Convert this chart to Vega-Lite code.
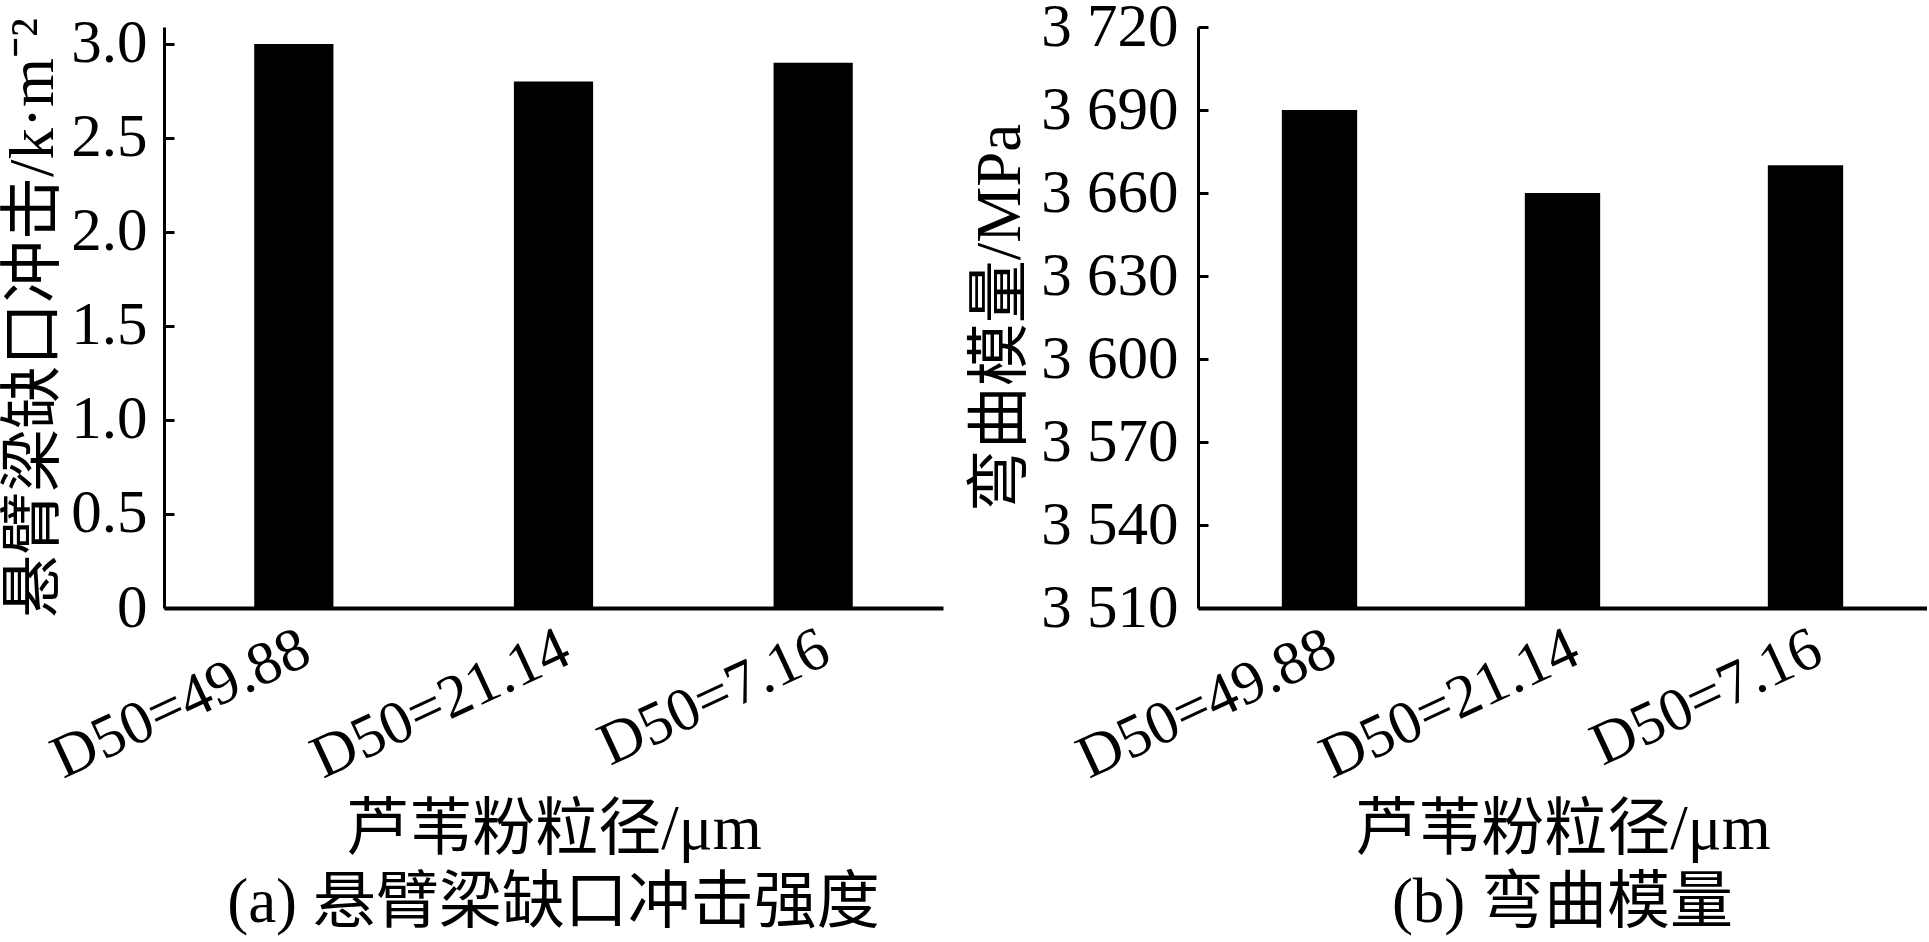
{
  "$schema": "https://vega.github.io/schema/vega-lite/v6.json",
  "background": "white",
  "padding": {"left": 2, "top": -4, "right": 0, "bottom": 0},
  "spacing": 26,
  "config": {
    "font": "Liberation Serif, Noto Sans CJK SC",
    "view": {"stroke": null},
    "axis": {
      "grid": false,
      "domainColor": "#000",
      "tickColor": "#000",
      "labelColor": "#000",
      "titleColor": "#000",
      "titleFontWeight": "normal",
      "labelFont": "Liberation Serif, Noto Sans CJK SC",
      "titleFont": "Liberation Serif, Noto Sans CJK SC",
      "labelFontSize": 61,
      "titleFontSize": 63,
      "labelLimit": 1000
    },
    "title": {
      "font": "Liberation Serif, Noto Sans CJK SC",
      "fontSize": 63,
      "fontWeight": "normal",
      "color": "#000"
    }
  },
  "hconcat": [
    {
      "width": 779,
      "height": 581,
      "title": {"text": "(a) 悬臂梁缺口冲击强度", "orient": "bottom", "anchor": "middle", "offset": 11},
      "data": {"values": [
        {"size": "D50=49.88", "value": 3.0},
        {"size": "D50=21.14", "value": 2.8},
        {"size": "D50=7.16", "value": 2.9}
      ]},
      "mark": {"type": "bar", "color": "#000"},
      "encoding": {
        "x": {
          "field": "size", "type": "nominal", "sort": null,
          "scale": {"paddingInner": 0.695, "paddingOuter": 0.3475},
          "axis": {"title": "芦苇粉粒径/μm", "labelAngle": -25, "ticks": false, "labelPadding": 10, "titlePadding": 9, "domainWidth": 4}
        },
        "y": {
          "field": "value", "type": "quantitative",
          "scale": {"domain": [0, 3.09], "nice": false},
          "axis": {
            "title": "悬臂梁缺口冲击/k·m⁻²",
            "values": [0, 0.5, 1, 1.5, 2, 2.5, 3],
            "labelExpr": "datum.value == 0 ? '0' : format(datum.value, '.1f')",
            "tickSize": -10, "tickWidth": 3, "domainWidth": 3,
            "labelPadding": 27, "titlePadding": 5
          }
        }
      }
    },
    {
      "width": 729,
      "height": 581,
      "title": {"text": "(b) 弯曲模量", "orient": "bottom", "anchor": "middle", "offset": 11},
      "data": {"values": [
        {"size": "D50=49.88", "value": 3690},
        {"size": "D50=21.14", "value": 3660},
        {"size": "D50=7.16", "value": 3670}
      ]},
      "mark": {"type": "bar", "color": "#000", "clip": true},
      "encoding": {
        "x": {
          "field": "size", "type": "nominal", "sort": null,
          "scale": {"paddingInner": 0.69, "paddingOuter": 0.345},
          "axis": {"title": "芦苇粉粒径/μm", "labelAngle": -25, "ticks": false, "labelPadding": 10, "titlePadding": 9, "domainWidth": 4}
        },
        "y": {
          "field": "value", "type": "quantitative",
          "scale": {"domain": [3510, 3720], "nice": false, "zero": false},
          "axis": {
            "title": "弯曲模量/MPa",
            "values": [3510, 3540, 3570, 3600, 3630, 3660, 3690, 3720],
            "labelExpr": "replace(format(datum.value, ','), ',', ' ')",
            "tickSize": -10, "tickWidth": 3, "domainWidth": 3,
            "labelPadding": 30, "titlePadding": 8
          }
        }
      }
    }
  ]
}
